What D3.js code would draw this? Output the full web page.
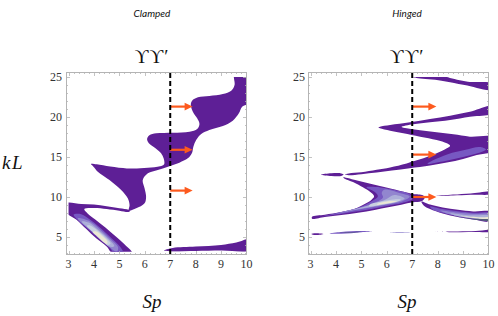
<!DOCTYPE html>
<html>
<head>
<meta charset="utf-8">
<script src="https://cdn.jsdelivr.net/npm/d3@7"></script>
<style>
  body { margin: 0; background: #fff; }
</style>
</head>
<body>
<script>
// ---- data (Sp, kL) ----
var spTicks = [3, 4, 5, 6, 7, 8, 9, 10];
var kLTicks = [5, 10, 15, 20, 25];
var panelNames = ["Clamped", "Hinged"];
var dashedSp = 7;
var clampedArrows = [21.3, 15.9, 10.8];
var hingedArrows = [21.3, 15.3, 10.0];
var arrowTipSp = [7.88, 7.95];

// contour level -> colour (0 = outer purple ... 5 = cream core, 6 = slate)
var levelColors = ["#5e1f96", "#7758c2", "#9286cf", "#adb0d9", "#c9d1e1", "#ece8d4", "#525c7a"];

// Clamped panel
var clampedUpper = [[9.53,25.4],[9.53,24.0],[9.40,23.29],[9.07,22.875],[8.54,22.625],[8.09,22.46],[7.86,22.04],[7.81,21.5],[7.89,20.67],[8.06,19.83],[8.15,19.125],[8.06,18.5],[7.76,18.17],[7.10,18.04],[6.45,17.96],[6.18,17.71],[6.09,17.25],[6.16,16.71],[6.42,16.08],[6.64,15.46],[6.74,14.83],[6.76,14.1],[6.6,13.85],[6.12,13.67],[5.56,13.56],[5.29,13.56],[4.64,13.8],[4.11,14.08],[3.88,14.12],[3.98,13.79],[4.15,13.17],[4.61,12.125],[5.07,10.875],[5.33,9.83],[5.40,9.0],[5.37,8.29],[5.66,8.58],[5.99,9.21],[6.05,10.04],[5.99,11.08],[5.92,12.125],[6.12,12.96],[6.51,13.375],[6.91,13.79],[7.36,14.29],[7.69,14.83],[7.86,15.54],[7.91,16.29],[8.02,17.125],[8.22,17.875],[8.54,18.375],[9.07,18.875],[9.46,19.54],[9.70,20.46],[9.83,21.29],[10.2,21.92],[10.2,25.4]];
var clampedLowerLeft = [[2.9,9.22],[2.9,8.1],[3.3,7.2],[3.7,6.0],[4.1,4.8],[4.5,3.8],[4.72,3.0],[5.5,3.0],[5.2,4.1],[4.85,5.1],[4.45,6.2],[4.05,7.2],[3.75,7.95],[3.62,8.5],[4.0,8.62],[4.5,8.5],[5.0,8.28],[5.36,8.12],[5.42,8.25],[5.36,8.4],[5.0,8.6],[4.5,8.85],[4.0,9.05],[3.5,9.12]];
var clampedBottomRight = [[6.75,3.3],[7.1,3.62],[8.0,3.8],[9.0,4.0],[9.6,4.3],[10.2,4.75],[10.2,3.4],[9.0,3.3],[8.0,3.25],[7.0,3.2]];
var clampedL1 = [[3.2,7.8],[3.4,7.0],[3.8,5.9],[4.18,4.8],[4.58,3.8],[4.8,3.0],[5.15,3.0],[5.02,3.8],[4.7,4.8],[4.3,6.0],[3.88,7.1],[3.5,7.85]];
var clampedL2 = [[3.36,7.35],[3.84,5.9],[4.23,4.8],[4.62,3.7],[4.9,3.2],[4.95,3.7],[4.62,4.8],[4.22,6.0],[3.78,7.05]];
var clampedL3 = [[3.52,6.95],[3.92,5.75],[4.28,4.65],[4.6,3.8],[4.8,3.85],[4.55,4.8],[4.16,5.9],[3.8,6.8]];
var clampedL4 = [[3.72,6.4],[4.02,5.45],[4.3,4.6],[4.56,4.0],[4.65,4.2],[4.45,4.95],[4.13,5.85],[3.85,6.45]];
var clampedL5 = [[3.95,5.65],[4.18,4.95],[4.38,4.35],[4.52,4.15],[4.52,4.5],[4.34,5.1],[4.1,5.7]];

// Hinged panel
var hingedTop = [[7.03,25.4],[8.15,25.4],[8.41,24.96],[9.19,24.42],[10.2,24.15],[10.2,23.4],[9.06,24.0],[8.15,24.54],[7.23,24.83],[7.03,25.0]];
var hingedS = [[10.2,21.4],[9.27,20.67],[8.49,20.17],[7.70,19.75],[6.91,19.33],[6.13,19.0],[5.73,18.79],[5.67,18.71],[5.73,18.58],[6.13,18.29],[6.65,17.96],[7.31,17.54],[7.96,17.125],[8.36,16.71],[8.49,16.42],[8.36,16.08],[7.96,15.46],[7.44,14.83],[6.78,14.2],[6.13,13.7],[5.6,13.4],[5.0,13.1],[4.5,12.95],[4.35,12.8],[4.5,12.72],[5.0,12.85],[5.6,13.05],[6.2,13.3],[6.9,13.6],[7.7,13.95],[8.36,14.3],[9.0,14.75],[9.54,15.25],[10.2,15.8],[10.2,17.45],[9.27,17.54],[8.62,17.83],[7.96,18.08],[7.31,18.33],[6.78,18.58],[6.58,18.75],[7.04,19.08],[7.70,19.33],[8.49,19.625],[9.27,20.04],[10.2,20.5]];
var hingedSLight = [[7.6,14.15],[8.3,14.5],[9.0,15.0],[9.6,15.5],[9.9,15.95],[9.65,16.25],[9.1,15.9],[8.4,15.35],[7.8,14.55]];
var hingedBit = [[3.42,12.79],[3.82,12.96],[4.21,12.95],[4.3,12.8],[4.21,12.63],[3.82,12.63]];
var hingedWedge = [[4.28,12.46],[4.87,12.04],[5.52,11.54],[6.18,11.04],[6.70,10.625],[7.03,10.375],[7.42,10.21],[7.49,9.875],[7.36,9.46],[7.03,9.33],[6.57,9.04],[6.05,8.71],[5.52,8.375],[4.87,8.04],[4.21,7.75],[3.56,7.5],[3.06,7.29],[3.06,7.54],[3.56,7.79],[4.21,8.125],[4.74,8.54],[5.13,9.125],[5.4,9.67],[5.5,10.1],[5.35,10.625],[5.06,11.21],[4.67,11.875],[4.34,12.29]];
var hingedWedgeL1 = [[5.2,11.2],[5.75,11.2],[6.35,10.85],[6.9,10.35],[7.0,9.75],[6.6,9.25],[6.0,8.88],[5.4,8.5],[4.7,8.15],[4.0,7.8],[3.45,7.58],[4.0,7.98],[4.6,8.4],[5.1,8.95],[5.45,9.55],[5.65,10.1],[5.5,10.7]];
var hingedWedgeL2 = [[5.9,10.9],[6.5,10.5],[6.9,10.05],[6.6,9.45],[6.0,9.05],[5.3,8.65],[4.6,8.28],[4.0,7.88],[4.5,8.33],[5.15,8.85],[5.6,9.4],[5.85,9.95],[5.8,10.5]];
var hingedWedgeL3 = [[6.3,10.25],[6.7,9.8],[6.3,9.3],[5.6,8.9],[4.9,8.5],[4.4,8.2],[4.9,8.6],[5.45,9.1],[5.95,9.7]];
var hingedWedgeL4 = [[5.3,8.85],[5.9,9.1],[6.4,9.4],[6.55,9.65],[6.3,9.7],[5.8,9.45],[5.35,9.1]];
var hingedWedgeL5 = [[5.6,9.05],[6.1,9.25],[6.4,9.48],[6.15,9.5],[5.75,9.28]];
var hingedLobe = [[7.36,9.42],[7.7,9.05],[8.2,8.7],[8.8,8.4],[9.4,8.2],[10.2,8.1],[10.2,6.98],[9.4,7.2],[8.8,7.5],[8.2,7.95],[7.7,8.5],[7.45,8.95]];
var hingedLobeL1 = [[7.7,8.8],[8.2,8.5],[8.8,8.22],[9.4,8.03],[10.2,7.95],[10.2,7.05],[9.4,7.27],[8.8,7.57],[8.2,8.02],[7.8,8.45]];
var hingedLobeL2 = [[8.1,8.3],[8.8,8.05],[9.4,7.88],[10.2,7.8],[10.2,7.1],[9.4,7.32],[8.8,7.62],[8.3,8.0]];
var hingedLobeL3 = [[8.5,7.95],[9.2,7.72],[10.2,7.6],[10.2,7.15],[9.3,7.38],[8.7,7.68]];
var hingedLobeL5 = [[8.9,7.65],[9.6,7.47],[10.2,7.42],[10.2,7.2],[9.5,7.33]];
var hingedLobeL6 = [[8.6,7.62],[9.3,7.3],[10.2,7.12],[10.2,7.0],[9.4,7.2],[8.8,7.5]];
var hingedStrip10 = [[7.95,10.12],[8.6,10.3],[9.3,10.45],[10.2,10.68],[10.2,10.4],[9.3,10.27],[8.6,10.18]];
var hingedStrip5a = [[3.03,5.38],[3.2,5.47],[3.5,5.38],[3.2,5.24]];
var hingedStrip5b = [[3.75,5.45],[4.2,5.62],[4.6,5.72],[5.0,5.76],[5.45,5.72],[5.0,5.6],[4.6,5.48],[4.2,5.42]];
var hingedStrip5bCore = [[4.1,5.5],[4.6,5.62],[5.0,5.66],[4.6,5.55]];
var hingedStrip5c = [[6.1,5.56],[6.5,5.62],[6.95,5.6],[6.5,5.54]];
var hingedStrip5d = [[7.85,5.66],[8.8,5.7],[9.5,5.75],[10.2,5.88],[10.2,5.68],[9.5,5.62],[8.8,5.6]];

var clampedShapes = [
  [0, clampedUpper], [0, clampedLowerLeft], [0, clampedBottomRight],
  [1, clampedL1], [2, clampedL2], [3, clampedL3], [4, clampedL4], [5, clampedL5]
];
var hingedShapes = [
  [0, hingedTop], [0, hingedS], [1, hingedSLight], [0, hingedBit],
  [0, hingedWedge], [1, hingedWedgeL1], [2, hingedWedgeL2], [3, hingedWedgeL3], [4, hingedWedgeL4], [5, hingedWedgeL5],
  [0, hingedLobe], [1, hingedLobeL1], [2, hingedLobeL2], [3, hingedLobeL3], [5, hingedLobeL5], [6, hingedLobeL6],
  [0, hingedStrip10], [0, hingedStrip5a], [1, hingedStrip5b], [6, hingedStrip5bCore], [2, hingedStrip5c], [0, hingedStrip5d]
];

// ---- layout ----
var width = 498, height = 316;
var serif = "'Liberation Serif', 'DejaVu Serif', serif";
var svg = d3.select("body").append("svg")
    .attr("width", width)
    .attr("height", height);

var y = d3.scaleLinear().domain([2.75, 25.625]).range([255, 72]);

var panels = [
  { name: panelNames[0], left: 66, centre: 152, shapes: clampedShapes, arrows: clampedArrows, tip: arrowTipSp[0], labelRight: 62, kL: true },
  { name: panelNames[1], left: 308, centre: 407, shapes: hingedShapes, arrows: hingedArrows, tip: arrowTipSp[1], labelRight: 305, kL: false }
];

var tickColor = "#b4b4b4";

panels.forEach(function(p, i) {
  var x = d3.scaleLinear().domain([2.9, 10.02]).range([p.left, p.left + 181]);
  var g = svg.append("g");

  // clip to the plotted range
  g.append("clipPath").attr("id", "clip" + i)
    .append("rect")
      .attr("x", x(3)).attr("y", y(25))
      .attr("width", x(10) - x(3)).attr("height", y(3.15) - y(25));

  var line = d3.line()
      .x(function(d) { return x(d[0]); })
      .y(function(d) { return y(d[1]); })
      .curve(d3.curveCatmullRomClosed.alpha(0.5));

  g.append("g").attr("clip-path", "url(#clip" + i + ")")
    .selectAll("path")
    .data(p.shapes)
    .enter().append("path")
      .attr("d", function(d) { return line(d[1]); })
      .attr("fill", function(d) { return levelColors[d[0]]; });

  // frame
  var x0 = x.range()[0], x1 = x.range()[1], y0 = y.range()[1], y1 = y.range()[0];
  g.append("rect")
    .attr("x", x0 + 0.5).attr("y", y0 + 0.5)
    .attr("width", x1 - x0 - 1).attr("height", y1 - y0 - 1)
    .attr("fill", "none").attr("stroke", tickColor).attr("stroke-width", 1);

  // ticks (major on labels, minor between)
  var minorX = d3.range(30, 101, 2).map(function(v) { return v / 10; });
  var minorY = d3.range(3, 26, 1);
  var ticks = g.append("g").attr("stroke", tickColor).attr("stroke-width", 0.8);
  minorX.forEach(function(v) {
    var len = spTicks.indexOf(v) >= 0 ? 4 : 2;
    var px = Math.round(x(v)) + 0.5;
    ticks.append("line").attr("x1", px).attr("x2", px).attr("y1", y1).attr("y2", y1 - len);
    ticks.append("line").attr("x1", px).attr("x2", px).attr("y1", y0).attr("y2", y0 + len);
  });
  minorY.forEach(function(v) {
    var len = kLTicks.indexOf(v) >= 0 ? 4 : 2;
    var py = Math.round(y(v)) + 0.5;
    ticks.append("line").attr("y1", py).attr("y2", py).attr("x1", x0).attr("x2", x0 + len);
    ticks.append("line").attr("y1", py).attr("y2", py).attr("x1", x1).attr("x2", x1 - len);
  });

  // tick labels
  g.append("g").selectAll("text").data(spTicks).enter().append("text")
    .attr("x", function(d) { return x(d); })
    .attr("y", 268)
    .attr("text-anchor", "middle")
    .style("font-family", serif)
    .attr("font-size", 12)
    .attr("fill", "#333")
    .text(function(d) { return d; });
  g.append("g").selectAll("text").data(kLTicks).enter().append("text")
    .attr("x", p.labelRight)
    .attr("y", function(d) { return y(d); })
    .attr("dy", "0.35em")
    .attr("text-anchor", "end")
    .style("font-family", serif)
    .attr("font-size", 12)
    .attr("fill", "#333")
    .text(function(d) { return d; });

  // arrows
  var arrowColor = "#fd5a1e";
  p.arrows.forEach(function(k) {
    var xs = x(dashedSp), xt = x(p.tip), yk = y(k);
    g.append("line")
      .attr("x1", xs).attr("x2", xt - 6).attr("y1", yk).attr("y2", yk)
      .attr("stroke", arrowColor).attr("stroke-width", 2.2);
    g.append("path")
      .attr("d", "M" + (xt - 8) + "," + (yk - 3.8) + "L" + xt + "," + yk + "L" + (xt - 8) + "," + (yk + 3.8) + "Z")
      .attr("fill", arrowColor);
  });

  // dashed critical line
  g.append("line")
    .attr("x1", x(dashedSp)).attr("x2", x(dashedSp))
    .attr("y1", y0 + 1).attr("y2", y1)
    .attr("stroke", "#000").attr("stroke-width", 2)
    .attr("stroke-dasharray", "5,3");

  // titles
  g.append("text")
    .attr("x", p.centre).attr("y", 17)
    .attr("text-anchor", "middle")
    .style("font-family", "Lato, 'Open Sans', sans-serif")
    .style("font-style", "italic")
    .attr("font-size", 10)
    .attr("fill", "#111")
    .text(p.name);
  g.append("text")
    .attr("x", p.centre).attr("y", 63)
    .attr("text-anchor", "middle")
    .style("font-family", serif)
    .attr("font-size", 19)
    .attr("letter-spacing", 1)
    .attr("fill", "#111")
    .text("ϒϒ′");
  g.append("text")
    .attr("x", p.centre).attr("y", 308)
    .attr("text-anchor", "middle")
    .style("font-family", serif)
    .style("font-style", "italic")
    .attr("font-size", 19)
    .attr("fill", "#111")
    .text("Sp");
  if (p.kL) {
    g.append("text")
      .attr("x", 2).attr("y", 169)
      .style("font-family", serif)
      .style("font-style", "italic")
      .attr("font-size", 19)
      .attr("letter-spacing", 1.5)
      .attr("fill", "#111")
      .text("kL");
  }
});
</script>
</body>
</html>
